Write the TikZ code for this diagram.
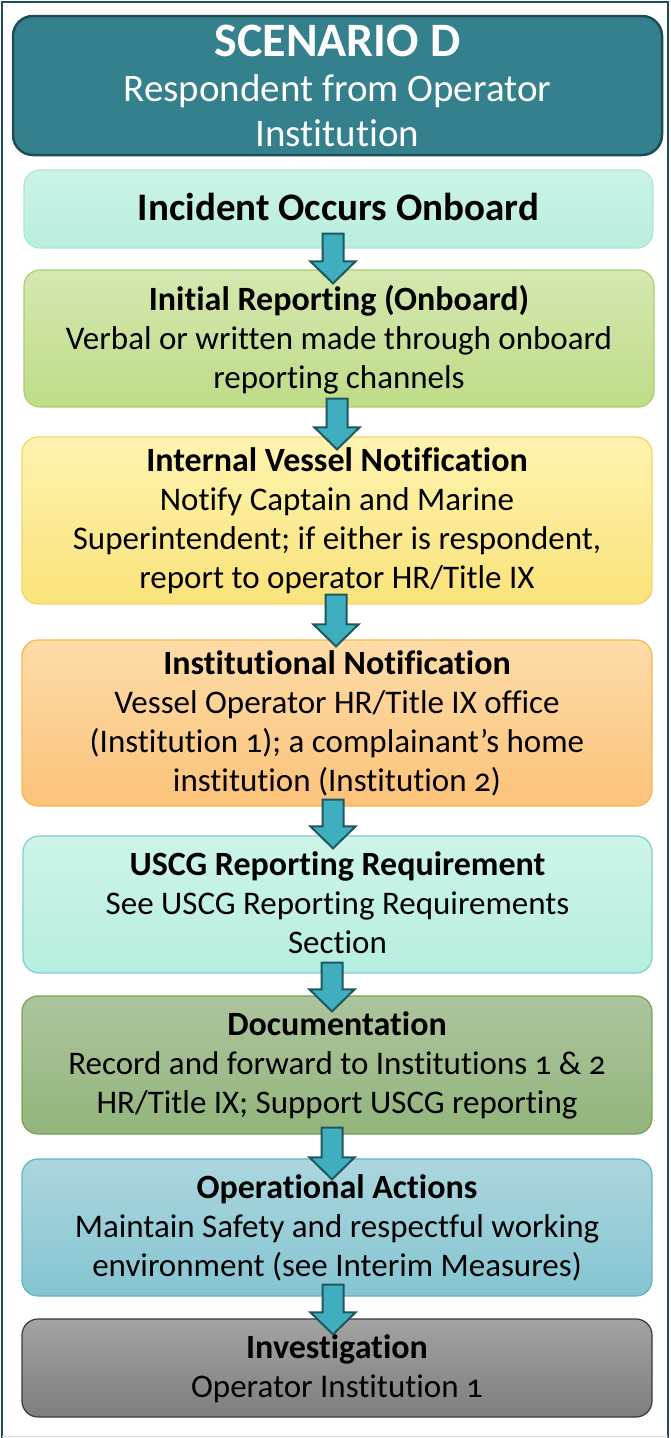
\documentclass[tikz,border=0pt]{standalone}
\usepackage{fontspec}
\setmainfont{Carlito}[Numbers=OldStyle,Ligatures=NoCommon]
\usetikzlibrary{calc}
\definecolor{framecol}{HTML}{1F4E56}
\definecolor{headfill}{HTML}{34808C}
\definecolor{headdraw}{HTML}{1E4E55}
\definecolor{arrfill}{HTML}{3FAFBF}
\definecolor{arrdraw}{HTML}{1F5760}
\definecolor{aT}{HTML}{CCF3E8}\definecolor{aB}{HTML}{B8EEDF}\definecolor{aD}{HTML}{A8E8DA}
\definecolor{bT}{HTML}{D5E8B0}\definecolor{bB}{HTML}{BEDC88}\definecolor{bD}{HTML}{A8D070}
\definecolor{cT}{HTML}{FEF3B0}\definecolor{cB}{HTML}{FAE37A}\definecolor{cD}{HTML}{F2D660}
\definecolor{dT}{HTML}{FDDCA8}\definecolor{dB}{HTML}{FCC27A}\definecolor{dD}{HTML}{F5B850}
\definecolor{eT}{HTML}{CFF4EA}\definecolor{eB}{HTML}{B5EEDF}\definecolor{eD}{HTML}{80CCD6}
\definecolor{fT}{HTML}{ADC49E}\definecolor{fB}{HTML}{93B57C}\definecolor{fD}{HTML}{76A256}
\definecolor{gT}{HTML}{ACD6DE}\definecolor{gB}{HTML}{84C5D1}\definecolor{gD}{HTML}{62B3C3}
\definecolor{hT}{HTML}{A3A3A3}\definecolor{hB}{HTML}{7E7E7E}\definecolor{hD}{HTML}{3A3A3A}
\newcommand\bodyfont{\fontsize{33}{39}\selectfont}
\newcommand\ttl[1]{{\fontsize{34}{39}\selectfont\bfseries #1}}
\newcommand\flowarrow[5]{%
  \draw[blockarrow] let \p1=($(#1.south)+(0,#4)$), \p2=($(#2.north)+(0,-#5)$) in
   (#3pt-10.5pt,\y1) -- (#3pt+10.5pt,\y1) -- (#3pt+10.5pt,\y2+22pt) -- (#3pt+22.5pt,\y2+22pt)
   -- (#3pt,\y2) -- (#3pt-22.5pt,\y2+22pt) -- (#3pt-10.5pt,\y2+22pt) -- cycle;}
\begin{document}
\begin{tikzpicture}[x=1pt,y=1pt,
  stepbox/.style={rounded corners=16pt, line width=1.2pt, align=center, inner sep=0pt,
    font=\bodyfont, text=black, minimum width=630pt, text depth=4pt},
  blockarrow/.style={fill=arrfill, draw=arrdraw, line width=2pt, line join=miter}]
\useasboundingbox (0,0) rectangle (671,-1438);
\fill[white] (0,0) rectangle (671,-1438);
\draw[framecol, line width=2.5pt] (2,-1438) -- (2,-2) -- (668,-2) -- (668,-1438);
\draw[black!12, line width=1.5pt] (2,-1436.5) -- (668,-1436.5);
% header
\node[rounded corners=20pt, fill=headfill, draw=headdraw, line width=2.5pt, align=center,
  text=white, minimum width=649pt, minimum height=139pt, inner sep=0pt,
  font=\fontsize{39}{45}\selectfont]
  (hd) at (337.5,-85.5)
  {{\fontsize{48}{45}\selectfont\bfseries SCENARIO D}\\
   Respondent from Operator\\
   Institution};
\node[stepbox, top color=aT, bottom color=aB, draw=aD, minimum width=629pt, minimum height=78pt]
  (b1) at (338.5,-209) {\fontsize{39}{39}\selectfont\bfseries Incident Occurs Onboard};
\node[stepbox, top color=bT, bottom color=bB, draw=bD, minimum height=137pt]
  (b2) at (339,-338.5) {\ttl{Initial Reporting (Onboard)}\\ Verbal or written made through onboard\\ reporting channels};
\node[stepbox, top color=cT, bottom color=cB, draw=cD, minimum height=167pt]
  (b3) at (337,-520.5) {\ttl{Internal Vessel Notification}\\ Notify Captain and Marine\\ Superintendent; if either is respondent,\\ report to operator HR/Title IX};
\node[stepbox, top color=dT, bottom color=dB, draw=dD, minimum height=166pt]
  (b4) at (337,-723) {\ttl{Institutional Notification}\\ Vessel Operator HR/Title IX office\\ (Institution 1); a complainant’s home\\ institution (Institution 2)};
\node[stepbox, top color=eT, bottom color=eB, draw=eD, minimum width=629pt, minimum height=137pt]
  (b5) at (337.5,-904.5) {\ttl{USCG Reporting Requirement}\\ See USCG Reporting Requirements\\ Section};
\node[stepbox, top color=fT, bottom color=fB, draw=fD, minimum height=138pt]
  (b6) at (337,-1065) {\ttl{Documentation}\\ Record and forward to Institutions 1 \& 2\\ HR/Title IX; Support USCG reporting};
\node[stepbox, top color=gT, bottom color=gB, draw=gD, minimum height=137pt]
  (b7) at (337,-1227.5) {\ttl{Operational Actions}\\ Maintain Safety and respectful working\\ environment (see Interim Measures)};
\node[stepbox, top color=hT, bottom color=hB, draw=hD, minimum height=98pt]
  (b8) at (337,-1368) {\ttl{Investigation}\\ Operator Institution 1};
% arrows
\flowarrow{b1}{b2}{333}{15pt}{14pt}
\flowarrow{b2}{b3}{337}{9pt}{13pt}
\flowarrow{b3}{b4}{336}{10pt}{7pt}
\flowarrow{b4}{b5}{333}{7pt}{13pt}
\flowarrow{b5}{b6}{332}{11pt}{16pt}
\flowarrow{b6}{b7}{332}{7pt}{21pt}
\flowarrow{b7}{b8}{333}{12pt}{16pt}
\end{tikzpicture}
\end{document}
